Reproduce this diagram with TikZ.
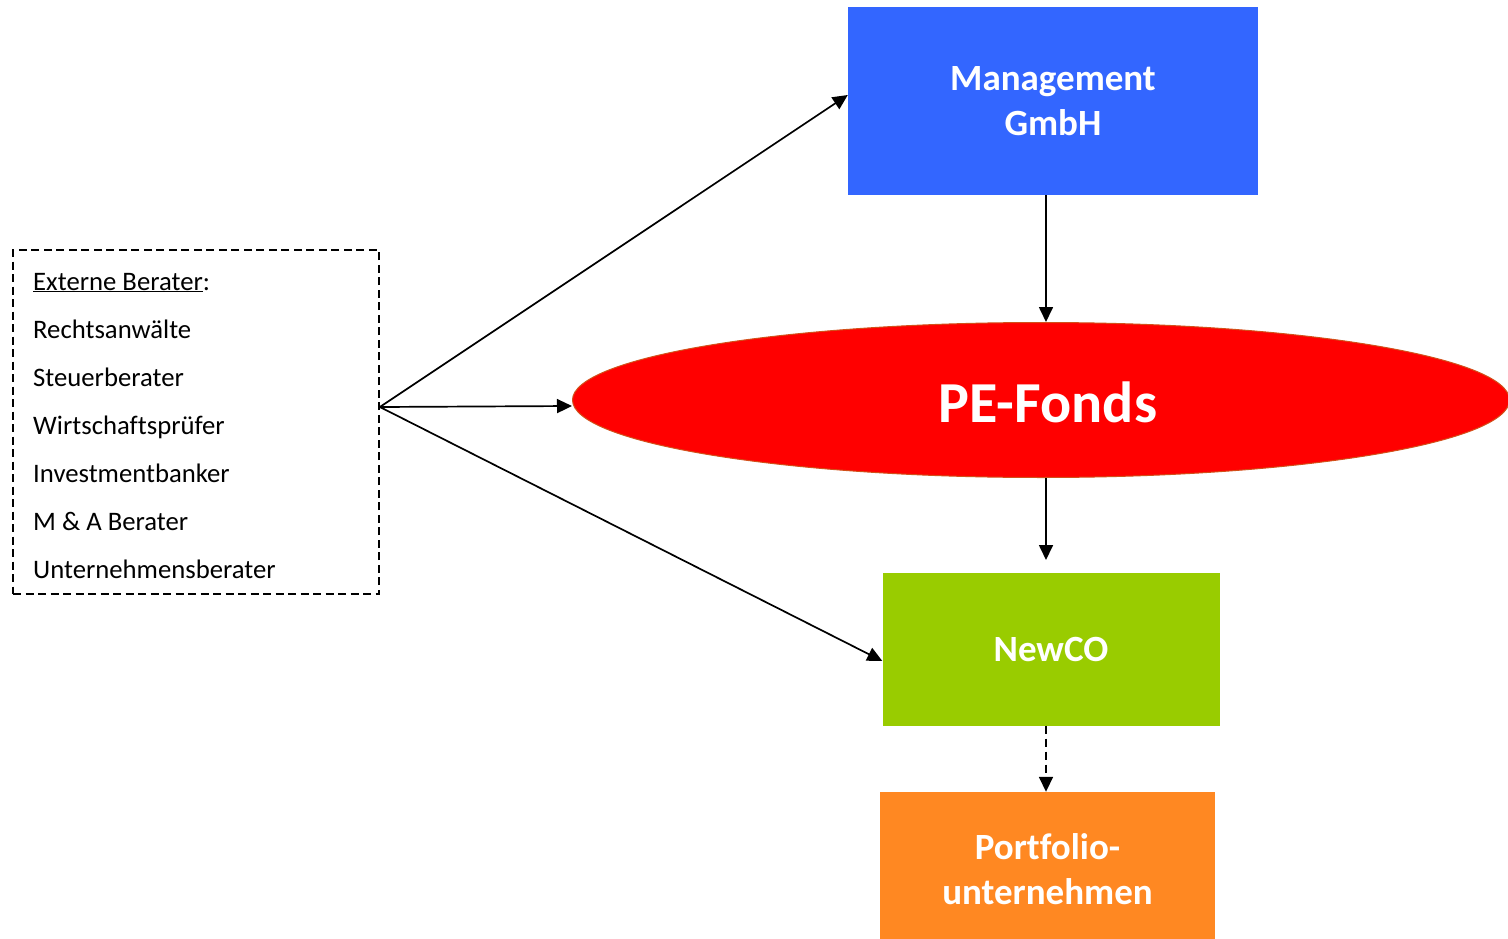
\documentclass[tikz,border=0pt]{standalone}
\usepackage{fontspec}
\setmainfont{Carlito}[Ligatures=NoCommon]
\usetikzlibrary{shapes.geometric,arrows.meta}
\definecolor{mgmtblue}{HTML}{3366FF}
\definecolor{fondsred}{HTML}{FF0000}
\definecolor{fondsedge}{HTML}{D2501A}
\definecolor{newcogreen}{HTML}{99CC00}
\definecolor{portorange}{HTML}{FF8822}
\tikzset{
  box/.style={rectangle, inner sep=0pt, draw=none, text=white, align=center,
    font=\fontsize{37}{45}\selectfont\bfseries},
  conn/.style={line width=1.7pt, -{Triangle[length=15pt,width=14pt]}},
  listline/.style={anchor=base west, inner sep=0pt, font=\fontsize{26.7}{32}\selectfont},
}
\begin{document}
\begin{tikzpicture}[x=1pt, y=-1pt]
\useasboundingbox (0,0) rectangle (1508,939);

% main entities
\node[box, fill=mgmtblue, minimum width=410pt, minimum height=188pt] (mgmt) at (1053,101)
  {Management\\GmbH};
\node[ellipse, fill=fondsred, draw=fondsedge, line width=1pt, inner sep=0pt,
  minimum width=937pt, minimum height=155pt] (fonds) at (1041,400) {};
\node[text=white, font=\fontsize{58}{60}\selectfont\bfseries, inner sep=0pt] (fondslabel)
  at (1048,402) {PE-Fonds};
\node[box, fill=newcogreen, minimum width=337pt, minimum height=153pt] (newco) at (1051,649)
  {NewCO};
\node[box, fill=portorange, minimum width=335pt, minimum height=154pt] (port) at (1047.5,869)
  {Portfolio-\\unternehmen};

% external advisors
\node[draw, dashed, dash pattern=on 8pt off 4.5pt, line width=1.8pt, rectangle, inner sep=0pt,
  minimum width=366pt, minimum height=344pt] (ext) at (196,422) {};
\node[listline] (l0) at (33,290) {\underline{Externe Berater}:};
\node[listline] (l1) at (33,338) {Rechtsanwälte};
\node[listline] (l2) at (33,386) {Steuerberater};
\node[listline] (l3) at (33,434) {Wirtschaftsprüfer};
\node[listline] (l4) at (33,482) {Investmentbanker};
\node[listline] (l5) at (33,530) {M \& A Berater};
\node[listline] (l6) at (33,578) {Unternehmensberater};

% connectors
\coordinate (src) at ([yshift=15pt]ext.east);
\coordinate (fondsstop) at (1046,560);
\draw[conn] (src) -- ([yshift=6pt]mgmt.west);
\draw[conn] (src) -- ([yshift=-6pt]fonds.west);
\draw[conn] (src) -- ([yshift=-12pt]newco.west);
\draw[conn] ([xshift=-7pt]mgmt.south) -- ([xshift=5pt]fonds.north);
\draw[conn] ([xshift=5pt]fonds.south) -- (fondsstop);
\draw[conn, dash pattern=on 8pt off 5pt] ([xshift=-5pt]newco.south) -- (port.north -| fondsstop);
\end{tikzpicture}
\end{document}
